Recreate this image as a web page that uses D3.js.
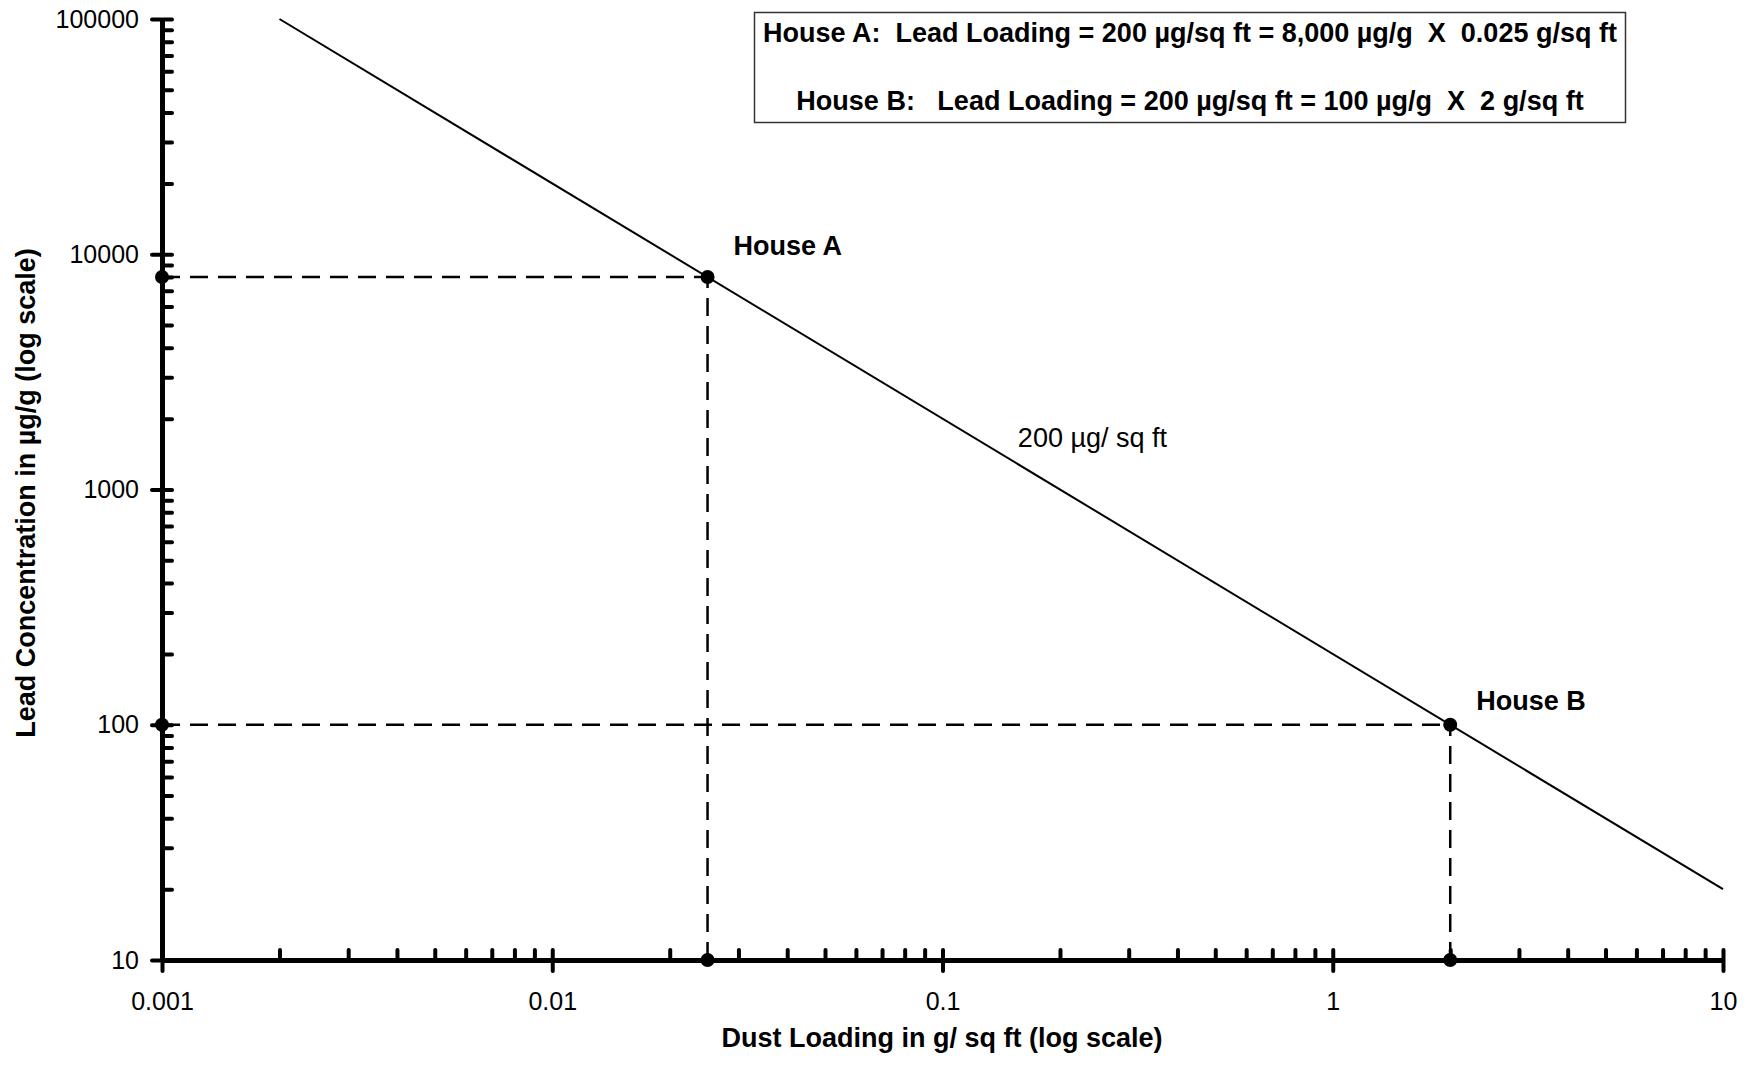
<!DOCTYPE html>
<html>
<head>
<meta charset="utf-8">
<script src="https://cdn.jsdelivr.net/npm/d3@7"></script>
<style>
  html, body { margin: 0; padding: 0; background: #fff; }
  svg text { font-family: "Liberation Sans", Arial, Helvetica, sans-serif; fill: #000; }
</style>
</head>
<body>
<svg id="chart" width="1754" height="1066"></svg>
<script>
// ---- data ----
const xMajorTicks = [0.001, 0.01, 0.1, 1, 10];
const xTickLabels = ["0.001", "0.01", "0.1", "1", "10"];
const yMajorTicks = [10, 100, 1000, 10000, 100000];
const yTickLabels = ["10", "100", "1000", "10000", "100000"];

// iso-loading line: 200 µg/sq ft  (concentration = 200 / dust)
const lineDust = [0.002, 10];
const lineConc = [100000, 20];

const houseNames = ["House A", "House B"];
const houseDust = [0.025, 2];
const houseConc = [8000, 100];

const lineLabel = "200 µg/ sq ft";
const lineLabelDust = 0.156;
const lineLabelConc = 1514;

const boxLines = [
  "House A:  Lead Loading = 200 µg/sq ft = 8,000 µg/g  X  0.025 g/sq ft",
  "House B:   Lead Loading = 200 µg/sq ft = 100 µg/g  X  2 g/sq ft"
];

const xTitle = "Dust Loading in g/ sq ft (log scale)";
const yTitle = "Lead Concentration in µg/g (log scale)";

// ---- layout ----
const svg = d3.select("#chart");
svg.append("rect").attr("width", 1754).attr("height", 1066).attr("fill", "#fff");

const x = d3.scaleLog().domain([0.001, 10]).range([162, 1723]);
const y = d3.scaleLog().domain([10, 100000]).range([960, 19]);

// minor tick values (2..9 of each decade)
function minors(majors) {
  const out = [];
  for (let i = 0; i < majors.length - 1; i++)
    for (let k = 2; k <= 9; k++) out.push(majors[i] * k);
  return out;
}

// dashed guide lines
const dashG = svg.append("g");
houseDust.forEach((d, i) => {
  dashG.append("line")
    .attr("x1", x(0.001)).attr("x2", x(d))
    .attr("y1", y(houseConc[i])).attr("y2", y(houseConc[i]))
    .attr("stroke", "#000").attr("stroke-width", 2.5).attr("stroke-dasharray", "18,10");
  dashG.append("line")
    .attr("x1", x(d)).attr("x2", x(d))
    .attr("y1", y(10)).attr("y2", y(houseConc[i]))
    .attr("stroke", "#000").attr("stroke-width", 2.5).attr("stroke-dasharray", "18,10");
});

// iso-loading line
const lineData = lineDust.map((d, i) => [d, lineConc[i]]);
svg.append("path")
  .datum(lineData)
  .attr("d", d3.line().x(d => x(d[0])).y(d => y(d[1])))
  .attr("fill", "none").attr("stroke", "#000").attr("stroke-width", 2);

// ---- axes ----
const fmtX = (d) => xTickLabels[xMajorTicks.indexOf(d)];
const fmtY = (d) => yTickLabels[yMajorTicks.indexOf(d)];

// x minor ticks
const gxMinor = svg.append("g").attr("transform", `translate(0,${y(10)})`)
  .call(d3.axisBottom(x).tickValues(minors(xMajorTicks)).tickSize(-10).tickFormat(""));
gxMinor.select(".domain").remove();
gxMinor.selectAll(".tick line").attr("stroke-width", 4).attr("stroke-linecap", "round");

// x major ticks + labels
const gx = svg.append("g").attr("transform", `translate(0,${y(10)})`)
  .call(d3.axisBottom(x).tickValues(xMajorTicks).tickFormat(fmtX).tickSizeOuter(0).tickPadding(26));
gx.select(".domain").attr("stroke-width", 5);
gx.selectAll(".tick line").attr("y1", -10).attr("y2", 11).attr("stroke-width", 4).attr("stroke-linecap", "round");
gx.selectAll(".tick text").style("font-size", "25px").attr("fill", "#000");

// y minor ticks
const gyMinor = svg.append("g").attr("transform", `translate(${x(0.001)},0)`)
  .call(d3.axisLeft(y).tickValues(minors(yMajorTicks)).tickSize(-10).tickFormat(""));
gyMinor.select(".domain").remove();
gyMinor.selectAll(".tick line").attr("stroke-width", 4).attr("stroke-linecap", "round");

// y major ticks + labels
const gy = svg.append("g").attr("transform", `translate(${x(0.001)},0)`)
  .call(d3.axisLeft(y).tickValues(yMajorTicks).tickFormat(fmtY).tickSizeOuter(0).tickPadding(17));
gy.select(".domain").attr("stroke-width", 5);
gy.selectAll(".tick line").attr("x1", -10).attr("x2", 10).attr("stroke-width", 4).attr("stroke-linecap", "round");
gy.selectAll(".tick text").style("font-size", "25px").attr("fill", "#000");

// ---- points ----
const pts = [];
houseDust.forEach((d, i) => {
  pts.push([d, houseConc[i]]);
  pts.push([0.001, houseConc[i]]);
  pts.push([d, 10]);
});
svg.append("g").selectAll("circle").data(pts).join("circle")
  .attr("cx", d => x(d[0])).attr("cy", d => y(d[1])).attr("r", 7).attr("fill", "#000");

// house labels
const houseLabelDy = [-22, -15];
svg.append("g").selectAll("text").data(houseNames).join("text")
  .attr("x", (d, i) => x(houseDust[i]) + 26)
  .attr("y", (d, i) => y(houseConc[i]) + houseLabelDy[i])
  .style("font-size", "27px").style("font-weight", "bold")
  .text(d => d);

// line label
svg.append("text")
  .attr("x", x(lineLabelDust)).attr("y", y(lineLabelConc))
  .style("font-size", "27px")
  .text(lineLabel);

// ---- info box ----
svg.append("rect")
  .attr("x", 754.5).attr("y", 12.5).attr("width", 871).attr("height", 110)
  .attr("fill", "#fff").attr("stroke", "#333").attr("stroke-width", 1.5);
const boxBaselines = [42, 110];
svg.append("g").selectAll("text").data(boxLines).join("text")
  .attr("x", 1190).attr("y", (d, i) => boxBaselines[i])
  .attr("text-anchor", "middle")
  .attr("xml:space", "preserve")
  .style("white-space", "pre")
  .style("font-size", "27px").style("font-weight", "bold")
  .text(d => d);

// ---- axis titles ----
svg.append("text")
  .attr("x", 942).attr("y", 1047)
  .attr("text-anchor", "middle")
  .style("font-size", "27px").style("font-weight", "bold")
  .text(xTitle);

svg.append("text")
  .attr("transform", "translate(35,493) rotate(-90)")
  .attr("text-anchor", "middle")
  .style("font-size", "27px").style("font-weight", "bold")
  .text(yTitle);
</script>
</body>
</html>
